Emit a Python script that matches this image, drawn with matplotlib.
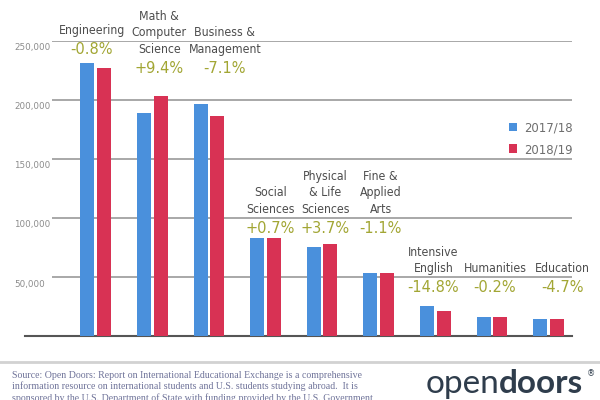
import matplotlib
matplotlib.use("Agg")
import matplotlib.pyplot as plt
import matplotlib.transforms as mtransforms
from matplotlib import font_manager as fm
from matplotlib.lines import Line2D
import numpy as np

# ---- data ----
fields = ["Engineering", "Math &\nComputer\nScience", "Business &\nManagement",
          "Social\nSciences", "Physical\n& Life\nSciences", "Fine &\nApplied\nArts",
          "Intensive\nEnglish", "Humanities", "Education"]
changes = ["-0.8%", "+9.4%", "-7.1%", "+0.7%", "+3.7%", "-1.1%", "-14.8%", "-0.2%", "-4.7%"]
students_1718 = [231500, 189000, 196500, 83000, 75500, 53500, 25500, 16500, 14500]
students_1819 = [227000, 203000, 186500, 83000, 78000, 53500, 21500, 16500, 14000]
years = ["2017/18", "2018/19"]
yticks = [50000, 100000, 150000, 200000, 250000]

# ---- layout ----
label_y = [242400, 227100, 227100, 91500, 91500, 91500, 40700, 40700, 40700]  # pct text centre
label_dx = [-4, 7, 16, 5, 3, 2, -2, 3, 14]  # px shift of the label block

BLUE = "#4a90dc"
RED = "#d83254"
OLIVE = "#a2a634"
LABEL = "#4d4d4d"


def narrow_font(size):
    # look for any condensed / narrow sans face, else fall back to Liberation Sans
    for f in fm.fontManager.ttflist:
        nm = f.name + " " + f.fname
        if ("Narrow" in nm or "Condensed" in nm or f.stretch in ("condensed", "semi-condensed")) \
                and "Serif" not in nm and "Mono" not in nm and f.style == "normal" \
                and f.weight in (400, "normal", "regular", "book"):
            return fm.FontProperties(fname=f.fname, size=size)
    return fm.FontProperties(family="Liberation Sans", size=size * 0.8)


fig = plt.figure(figsize=(6, 4), dpi=100)
ax = fig.add_axes([25 / 600, 64 / 400, 547 / 600, 295 / 400])

x = np.arange(len(fields))
w = 0.247
off = 0.146
ax.bar(x - off, students_1718, w, color=BLUE, label=years[0], zorder=3)
ax.bar(x + off, students_1819, w, color=RED, label=years[1], zorder=3)

ax.set_xlim(-1.25, 8.415)
ax.set_ylim(0, 250000)

# gridlines start right of the tick labels
ax.hlines(yticks, -0.772, 8.415, color="#9a9a9a", lw=1.2, zorder=1)
for s in ["top", "right", "left"]:
    ax.spines[s].set_visible(False)
ax.spines["bottom"].set_color("#555555")
ax.spines["bottom"].set_linewidth(1.5)
ax.set_xticks([])
ax.set_yticks([])

trans = mtransforms.blended_transform_factory(fig.transFigure, ax.transData)
for t in yticks:
    ax.annotate(f"{t:,}", xy=(14 / 600, t), xycoords=trans, xytext=(0, -2.5),
                textcoords="offset pixels", ha="left", va="top",
                fontsize=6.3, color="#8c8c8c", annotation_clip=False)

# category labels and percent change
label_fp = narrow_font(8.8)
for i, (name, pct) in enumerate(zip(fields, changes)):
    ax.annotate(pct, xy=(x[i], label_y[i]), xytext=(label_dx[i], 0),
                textcoords="offset pixels", ha="center", va="center",
                fontsize=10.5, color=OLIVE, annotation_clip=False)
    lines = name.split("\n")[::-1]
    for k, ln in enumerate(lines):
        ax.annotate(ln, xy=(x[i], label_y[i]), xytext=(label_dx[i], 19 + 16.5 * k),
                    textcoords="offset pixels", ha="center", va="center",
                    fontproperties=label_fp, color=LABEL, annotation_clip=False)

leg = ax.legend(loc="upper left", bbox_to_anchor=(497 / 600, 290 / 400),
                bbox_transform=fig.transFigure, frameon=False,
                handlelength=0.6, handleheight=0.6, handletextpad=0.6,
                labelspacing=0.65, prop=narrow_font(9.4))
for t in leg.get_texts():
    t.set_color("#6e6e6e")

# footer
fig.add_artist(Line2D([0, 1], [1 - 362 / 400] * 2, transform=fig.transFigure,
                      color="#d2d2d2", lw=2))
source = ("Source: Open Doors: Report on International Educational Exchange is a comprehensive\n"
          "information resource on international students and U.S. students studying abroad.  It is\n"
          "sponsored by the U.S. Department of State with funding provided by the U.S. Government")
for k, ln in enumerate(source.split("\n")):
    fig.text(12 / 600, 1 - (375 + 11.5 * k) / 400, ln, ha="left", va="center",
             fontsize=7.1, family="Liberation Serif", color="#6f7399")

fig.text(499 / 600, 1 - 393 / 400, "open", ha="right", va="baseline",
         fontsize=24, family="Lato", weight="normal", color="#2f3d4c")
fig.text(499 / 600, 1 - 393 / 400, "doors", ha="left", va="baseline",
         fontsize=24, family="Lato", weight="bold", color="#2f3d4c")
fig.text(591 / 600, 1 - 374 / 400, "®", ha="center", va="center",
         fontsize=6, color="#2f3d4c")

fig.savefig("out.png", dpi=100)
